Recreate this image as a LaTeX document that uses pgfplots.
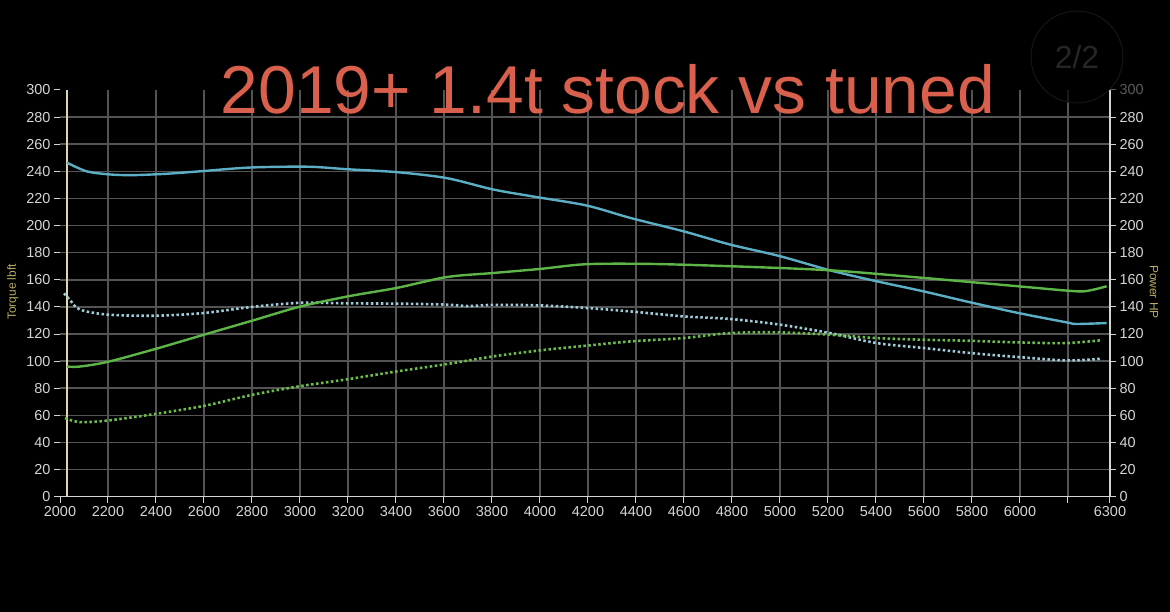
\documentclass[border=0pt]{standalone}
\usepackage{fontspec}
\setmainfont{Liberation Sans}
\usepackage{pgfplots}
\pgfplotsset{compat=1.18}

\definecolor{tqtuned}{HTML}{5CAEC4}
\definecolor{tqstock}{HTML}{9FCCD8}
\definecolor{pwtuned}{HTML}{5DB548}
\definecolor{pwstock}{HTML}{6CBE4C}
\definecolor{gridgray}{HTML}{545454}
\definecolor{ticktext}{HTML}{D4D4D4}
\definecolor{dimtext}{HTML}{5A5A5A}
\definecolor{axlabel}{HTML}{B8AC62}
\definecolor{cursor}{HTML}{DDD7A6}
\definecolor{titlered}{HTML}{D9604C}
\definecolor{badgeedge}{HTML}{161616}
\definecolor{badgetext}{HTML}{262626}

\pgfplotsset{
  dyno/.style={
    scale only axis, width=1050bp, height=406.7bp,
    at={(60bp,115.3bp)}, anchor=south west,
    xmin=2000, xmax=6375, ymin=0, ymax=300,
    clip=false,
    tick align=outside, major tick length=6bp,
    every tick/.style={ticktext, line width=1bp},
    tick label style={font=\fontsize{14.5}{15}\selectfont, text=ticktext},
    /pgf/number format/assume math mode=true,
    /pgf/number format/1000 sep={},
  },
}

\begin{document}
\begin{tikzpicture}[x=1bp,y=1bp]
\fill[black] (0,0) rectangle (1170,612);

% torque axis (left)
\begin{axis}[dyno,
  axis x line*=bottom, axis y line*=left,
  x axis line style={ticktext, line width=1.2bp, -},
  y axis line style={draw=none},
  xtick={2200,2400,...,6200},
  xticklabels={2200,2400,2600,2800,3000,3200,3400,3600,3800,4000,4200,4400,4600,4800,5000,5200,5400,5600,5800,6000,{}},
  extra x ticks={2000,6375},
  extra x tick labels={2000,6300},
  extra x tick style={grid=none},
  ytick={0,20,...,280},
  extra y ticks={300},
  extra y tick style={grid=none},
  grid=major,
  major grid style={gridgray, line width=1.5bp},
]
\addplot[cursor, line width=1.4bp] coordinates {(2029,0) (2029,300)};

% stock torque
\addplot[tqstock, line width=2.6bp, dash pattern=on 2.5bp off 2.5bp, smooth] coordinates {
(2017,150) (2042,145) (2083,138) (2200,134.3) (2400,133.5) (2600,135.5)
(2800,140) (3000,143) (3200,142.6) (3403,142.4) (3611,141.7) (3700,140.6)
(3805,141.5) (4000,141.1) (4194,139.2) (4375,136.7) (4597,133) (4792,131.1)
(5000,126.9) (5208,120.7) (5403,113.3) (5597,109.7) (5792,106) (5993,103)
(6194,100.5) (6333,101.7)
};
% tuned torque
\addplot[tqtuned, line width=2.4bp, smooth] coordinates {
(2029,246.4) (2111,240) (2208,237.7) (2305,237.2) (2444,238.2) (2583,240)
(2792,242.8) (3033,243.4) (3200,241.5) (3403,239.4) (3611,235) (3805,226.6)
(3986,221) (4194,214.8) (4375,205.7) (4597,195.8) (4792,186) (5000,177.4)
(5208,167) (5403,158.9) (5597,151.5) (5792,143.4) (5993,135.5) (6194,128.6)
(6236,127.4) (6361,128.1)
};
\end{axis}

% power axis (right)
\begin{axis}[dyno,
  axis x line=none, axis y line*=right,
  y axis line style={ticktext, line width=1.3bp, -},
  ytick={0,20,...,280},
  extra y ticks={300},
  extra y tick style={tick label style={text=dimtext}, tick style={dimtext}},
  yticklabel pos=right,
]
% stock power
\addplot[pwstock, line width=2.6bp, dash pattern=on 2.5bp off 2.5bp, smooth] coordinates {
(2021,58) (2083,55) (2200,56.2) (2400,61.1) (2600,67) (2800,75.1)
(3000,81.5) (3201,86.7) (3403,92.4) (3611,97.8) (3805,103.5) (4000,107.9)
(4194,111.4) (4375,114.5) (4597,117) (4792,120.7) (5000,121.2) (5208,119.5)
(5403,117) (5597,115.8) (5792,115) (5993,113.8) (6194,113.3) (6333,115.3)
};
% tuned power
\addplot[pwtuned, line width=2.4bp, smooth] coordinates {
(2029,96) (2083,96) (2200,99.5) (2400,109.1) (2600,119.5) (2800,129.8)
(3000,140.2) (3201,147.8) (3403,154) (3611,162) (3805,165) (4000,168)
(4194,171.5) (4458,171.7) (4792,170) (5208,167) (5597,161.4) (5993,155.2)
(6236,151.5) (6300,152.5) (6361,155.2)
};
\end{axis}

% axis titles
\node[rotate=90, text=axlabel, font=\fontsize{12}{13}\selectfont] at (12.7,320) {Torque lbft};
\node[rotate=-90, text=axlabel, font=\fontsize{12}{13}\selectfont] at (1154,320) {Power HP};

% chart title
\node[anchor=base west, inner sep=0, text=titlered, font=\fontsize{68}{72}\selectfont] at (220.7,498) {2019+ 1.4t stock vs tuned};

% page badge
\fill[black, opacity=0.7] (1077,555) circle (46);
\draw[badgeedge, line width=1bp] (1077,555) circle (46);
\node[text=badgetext, font=\fontsize{32}{34}\selectfont] at (1077,555) {2/2};

\pgfresetboundingbox
\path (0,0) rectangle (1170,612);
\end{tikzpicture}
\end{document}
